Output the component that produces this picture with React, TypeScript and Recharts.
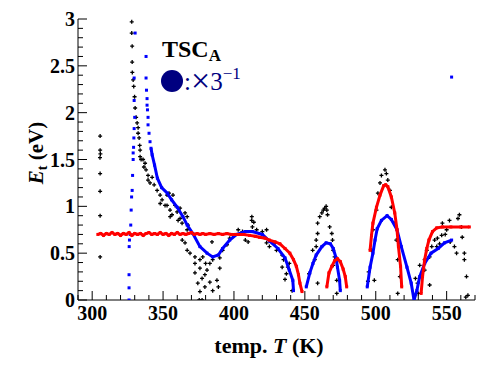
import { ScatterChart, Scatter, XAxis, YAxis } from 'recharts';

// tick values (minor every 10 K / 0.1 eV, labels on the majors)
const xTicks = [290, 300, 310, 320, 330, 340, 350, 360, 370, 380, 390, 400, 410, 420, 430, 440, 450, 460, 470, 480, 490, 500, 510, 520, 530, 540, 550, 560, 570];
const xTickLabels = [300, 350, 400, 450, 500, 550];
const yTicks = [0, 0.1, 0.2, 0.3, 0.4, 0.5, 0.6, 0.7, 0.8, 0.9, 1, 1.1, 1.2, 1.3, 1.4, 1.5, 1.6, 1.7, 1.8, 1.9, 2, 2.1, 2.2, 2.3, 2.4, 2.5, 2.6, 2.7, 2.8, 2.9, 3];
const yTickLabels = [0, 0.5, 1, 1.5, 2, 2.5, 3];

// measured E_t, black
const measured: [number, number][] = [
  [305.6, 1.75], [305.6, 1.6], [305.8, 1.56], [305.5, 1.52], [305.6, 1.35], [305.6, 1.16], [305.6, 0.9], [305.6, 0.46],
  [327.9, 2.97], [327.9, 2.85], [328.2, 2.71], [328.2, 2.54], [328.3, 2.43], [328.9, 2.35], [329.3, 2.28], [329.9, 2.17],
  [330.3, 2.05], [331, 1.95], [331.7, 1.89], [332.4, 1.84], [332.4, 1.78], [333.1, 1.73], [333.5, 1.65], [333.8, 1.6], [333.8, 1.53],
  [334.5, 1.5], [335.9, 1.5], [336.5, 1.42], [337.3, 1.46], [338, 1.39], [339.4, 1.33], [339.4, 1.28], [340.8, 1.25], [342.3, 1.31],
  [343.7, 1.23], [345.8, 1.17], [347.9, 1.12], [348, 1.03], [349.3, 1.07], [351.4, 1.01], [352.8, 1.12], [352.8, 1.01], [354.2, 1.14],
  [354.9, 0.96], [355, 0.89], [356.3, 0.91], [357, 1.12], [358.5, 1.01], [359.9, 0.94], [360.6, 0.85], [362, 0.98], [362, 0.87],
  [363.4, 0.82], [363.5, 0.64], [365.5, 0.93], [365.5, 0.61], [367, 0.89], [367, 0.75], [367.6, 0.8], [367, 0.53], [369, 0.5],
  [372.5, 0.46], [372.5, 0.39], [376, 0.43], [376, 0.34], [372.5, 0.29], [374.5, 0.18], [379.5, 0.27], [377.5, 0.23], [381, 0.32],
  [383, 0.39], [384.5, 0.62], [385, 0.43], [388, 0.21], [389, 0.14], [385, 0.1], [376, 0.09], [377.5, 0], [375.5, 0], [379.5, 0.14],
  [383, 0.19], [390, 0.34], [390, 0.45], [380, 0.39], [378, 0.46],
  [392, 0.53], [395, 0.59], [397, 0.66], [399, 0.69], [403, 0.75], [406, 0.73], [408, 0.64], [410, 0.62], [412.5, 0.85], [412.6, 0.89],
  [413, 0.78], [414, 0.83], [416, 0.75], [420, 0.73], [423, 0.75], [423, 0.61], [425, 0.57], [429, 0.61], [430, 0.53],
  [434, 0.48], [434, 0.35], [435, 0.43], [439, 0.39], [438, 0.35], [441, 0.1], [437, 0.28], [436, 0.22],
  [453, 0.28], [455.5, 0.53], [457, 0.43], [458, 0.57], [458, 0.64], [459, 0.71], [459, 0.82], [460.5, 0.89], [462, 0.93], [463, 0.96],
  [464, 0.98], [465, 1.0], [465.5, 0.96], [466, 0.91], [467.5, 0.78], [469, 0.71], [469.5, 0.64], [470, 0.53], [471, 0.46], [470, 0.37],
  [472.5, 0.21], [472.5, 0.07], [459, 0.18],
  [494.5, 0.2], [495, 0.3], [497, 0.53], [498, 0.75], [499, 0.21], [500.5, 0.96], [501.5, 1.14], [503, 1.25], [504, 1.33], [506.5, 1.39],
  [507.5, 1.35], [508.5, 1.28], [510, 1.17], [511, 0.99], [513.5, 0.82], [514.5, 0.64], [515.5, 0.43], [517, 0.25], [515.5, 0.07],
  [528, 0.23], [529.5, 0.18], [530, 0.07], [531, 0.37], [532, 0.25], [534.5, 0.32], [534.5, 0.43], [536, 0.53], [538, 0.46], [538, 0.16],
  [539.5, 0.57], [541.5, 0.64], [543.5, 0.66], [543, 0.57], [545, 0.6], [546.5, 0.69], [547, 0.82], [549, 0.7], [550, 0.75], [552, 0.85],
  [552.5, 0.62], [555.5, 0.57], [557, 0.5], [558, 0.87], [559, 0.91], [560.5, 0.78], [561, 0.67], [562.5, 0.5], [562.5, 0.43],
  [564, 0.25], [563.5, 0.03], [565, 0.05],
];

// blue fit, x3^-1
const blueSpike: [number, number][] = [
  [326, 0], [326, 0.13], [326, 0.27], [326.1, 0.57], [326.3, 0.64], [326.8, 0.7], [327.2, 0.8], [327.5, 0.96], [327.8, 1.1],
  [328.2, 1.17], [328.5, 1.33], [328.9, 1.5], [328.9, 1.57], [329.2, 1.63], [329.4, 1.73], [329.6, 1.83], [330, 1.95], [329.6, 2.13],
  [329.6, 2.37], [330.3, 2.85],
  [338, 2.6], [338, 2.37], [338.3, 2.24], [338.7, 2.15], [338.7, 2.08], [339, 2.03], [339.4, 1.95], [339.4, 1.87], [340.1, 1.78],
  [340.8, 1.69], [553.5, 2.38],
];
const blueArc1: [number, number][] = [
  [341.5, 1.62], [342.3, 1.55], [344, 1.44], [346, 1.3], [349, 1.2], [353, 1.14], [356, 1.07], [360, 0.99], [364, 0.89], [367, 0.8],
  [371, 0.71], [376, 0.57], [381, 0.5], [385, 0.46], [389, 0.48], [392, 0.55], [397, 0.64], [402, 0.7], [408, 0.73], [413, 0.73],
  [420, 0.7], [425, 0.63], [431, 0.55], [436, 0.45], [439, 0.32], [441.5, 0.21], [442, 0.1],
];
const blueArc2: [number, number][] = [
  [451, 0.14], [453.5, 0.29], [455.7, 0.39], [458, 0.48], [462, 0.57], [465, 0.61], [468, 0.6], [470, 0.55], [472, 0.45], [473, 0.35],
  [474.5, 0.21], [475, 0.1],
];
const blueArc3: [number, number][] = [
  [494, 0.14], [496, 0.35], [498, 0.5], [499.5, 0.64], [501, 0.76], [504, 0.85], [508, 0.9], [511, 0.86], [515, 0.75], [518, 0.57],
  [522, 0.35], [525, 0.18], [527, 0], [529, 0.1], [531, 0.25], [534.5, 0.39], [539, 0.5], [544, 0.55], [548.5, 0.61], [553.5, 0.64],
];

// red fit
const redArc1: [number, number][] = [
  [304, 0.7], [306, 0.71], [308, 0.69], [310, 0.71], [312, 0.7], [314, 0.72], [316, 0.7], [318, 0.71], [320, 0.69], [322, 0.71],
  [324, 0.7], [326, 0.72], [328, 0.69], [330, 0.71], [332, 0.7], [334, 0.71], [336, 0.69], [338, 0.71], [340, 0.72], [342, 0.7],
  [344, 0.71], [346, 0.7], [348, 0.72], [350, 0.7], [352, 0.71], [354, 0.69], [356, 0.71], [358, 0.7], [360, 0.72], [362, 0.7],
  [364, 0.71], [366, 0.7], [368, 0.71], [370, 0.72], [372, 0.7], [374, 0.71], [376, 0.7], [378, 0.71], [380, 0.7], [383, 0.71],
  [386, 0.7], [389, 0.71], [392, 0.7], [395, 0.71], [398, 0.7], [401, 0.7], [404, 0.7], [407, 0.7], [411, 0.69], [415, 0.68],
  [418, 0.67], [422, 0.66], [425, 0.64], [429, 0.62], [432.4, 0.6], [436, 0.55], [439.4, 0.5], [442, 0.43], [444, 0.36], [445.5, 0.27],
  [446.5, 0.18], [448, 0.09],
];
const redArc2: [number, number][] = [
  [465.5, 0.14], [467, 0.29], [469, 0.36], [471, 0.42], [473, 0.44], [475, 0.41], [477, 0.33], [478.5, 0.25], [479.5, 0.14],
];
const redArc3: [number, number][] = [
  [496, 0.53], [497, 0.69], [498, 0.82], [500.5, 0.99], [503, 1.12], [505.6, 1.22], [507, 1.23], [508.5, 1.21], [511, 1.1],
  [513.4, 0.93], [515, 0.75], [516, 0.57], [517.5, 0.36], [518.3, 0.14],
];
const redArc4: [number, number][] = [
  [532, 0.07], [533, 0.25], [534.5, 0.43], [536, 0.55], [537.5, 0.64], [540, 0.73], [543, 0.77], [547, 0.78], [553, 0.78], [560, 0.78],
  [566, 0.78],
];

const toPts = (arr: [number, number][]) => arr.map(([x, y]) => ({ x, y }));

const FONT = 'Liberation Serif, Times New Roman, serif';
const NAVY = '#000080';
const bold = { fontFamily: FONT, fontWeight: 'bold' as const };

const XTick = (props: any) => {
  const { x, y, payload } = props;
  const major = xTickLabels.includes(payload.value);
  return (
    <g>
      <line x1={x} x2={x} y1={y} y2={y - (major ? 9 : 5)} stroke="#000" strokeWidth={1} />
      {major && (
        <text x={x} y={y + 20} textAnchor="middle" style={{ ...bold, fontSize: 20 }} fill="#000">
          {payload.value}
        </text>
      )}
    </g>
  );
};

const YTick = (props: any) => {
  const { x, y, payload } = props;
  const major = yTickLabels.some((v) => Math.abs(v - payload.value) < 1e-6);
  return (
    <g>
      <line x1={x} x2={x + (major ? 9 : 5)} y1={y} y2={y} stroke="#000" strokeWidth={1} />
      {major && (
        <text x={x - 3} y={y + 7} textAnchor="end" style={{ ...bold, fontSize: 20 }} fill="#000">
          {payload.value}
        </text>
      )}
    </g>
  );
};

const square = (color: string) => (p: any) => (
  <rect x={p.cx - 1.5} y={p.cy - 1.5} width={3} height={3} fill={color} />
);
const plus = (p: any) => (
  <path d={`M${p.cx - 2},${p.cy}H${p.cx + 2}M${p.cx},${p.cy - 2}V${p.cy + 2}`} stroke="#000" strokeWidth={1.3} />
);

export default function App() {
  const lineBlue = { stroke: '#0000ff', strokeWidth: 3 };
  const lineRed = { stroke: '#ff0000', strokeWidth: 3 };
  return (
    <div style={{ position: 'absolute', left: 0, top: 0, width: 492, height: 365, background: '#fff' }}>
      <ScatterChart width={492} height={365} margin={{ top: 19, right: 17, bottom: 0, left: 0 }}>
        <XAxis
          type="number"
          dataKey="x"
          domain={[290, 570]}
          ticks={xTicks}
          interval={0}
          allowDataOverflow
          height={65}
          tickSize={0}
          tickMargin={0}
          tickLine={false}
          axisLine={{ stroke: '#000' }}
          tick={XTick}
        />
        <YAxis
          type="number"
          dataKey="y"
          domain={[0, 3]}
          ticks={yTicks}
          interval={0}
          allowDataOverflow
          width={78}
          tickSize={0}
          tickMargin={0}
          tickLine={false}
          axisLine={{ stroke: '#000' }}
          tick={YTick}
        />
        <Scatter data={toPts(measured)} shape={plus} isAnimationActive={false} />
        <Scatter data={toPts(blueSpike)} shape={square('#0000ff')} isAnimationActive={false} />
        <Scatter data={toPts(blueArc1)} shape={square('#0000ff')} line={lineBlue} lineType="joint" isAnimationActive={false} />
        <Scatter data={toPts(blueArc2)} shape={square('#0000ff')} line={lineBlue} lineType="joint" isAnimationActive={false} />
        <Scatter data={toPts(blueArc3)} shape={square('#0000ff')} line={lineBlue} lineType="joint" isAnimationActive={false} />
        <Scatter data={toPts(redArc1)} shape={square('#ff0000')} line={lineRed} lineType="joint" isAnimationActive={false} />
        <Scatter data={toPts(redArc2)} shape={square('#ff0000')} line={lineRed} lineType="joint" isAnimationActive={false} />
        <Scatter data={toPts(redArc3)} shape={square('#ff0000')} line={lineRed} lineType="joint" isAnimationActive={false} />
        <Scatter data={toPts(redArc4)} shape={square('#ff0000')} line={lineRed} lineType="joint" isAnimationActive={false} />
      </ScatterChart>
      <svg width={492} height={365} style={{ position: 'absolute', left: 0, top: 0, pointerEvents: 'none' }}>
        <text x={162} y={57} style={{ ...bold, fontSize: 24 }} fill="#000">
          TSC<tspan style={{ fontSize: 17 }} dy={4}>A</tspan>
        </text>
        <circle cx={172} cy={81} r={11} fill={NAVY} />
        <text x={184} y={90} style={{ fontFamily: FONT, fontSize: 25 }} fill={NAVY}>
          :<tspan style={{ fontSize: 34 }} dy={2}>×</tspan>
          <tspan dy={-2}>3</tspan>
          <tspan style={{ fontSize: 17 }} dy={-11}>−1</tspan>
        </text>
        <text x={269} y={353} textAnchor="middle" style={{ ...bold, fontSize: 22 }} fill="#000">
          temp. <tspan style={{ fontStyle: 'italic' }}>T</tspan> (K)
        </text>
        <text transform="translate(43,153) rotate(-90)" textAnchor="middle" style={{ ...bold, fontSize: 21 }} fill="#000">
          <tspan style={{ fontStyle: 'italic' }}>E</tspan>
          <tspan style={{ fontSize: 14 }} dy={4}>t</tspan>
          <tspan dy={-4}> (eV)</tspan>
        </text>
      </svg>
    </div>
  );
}
